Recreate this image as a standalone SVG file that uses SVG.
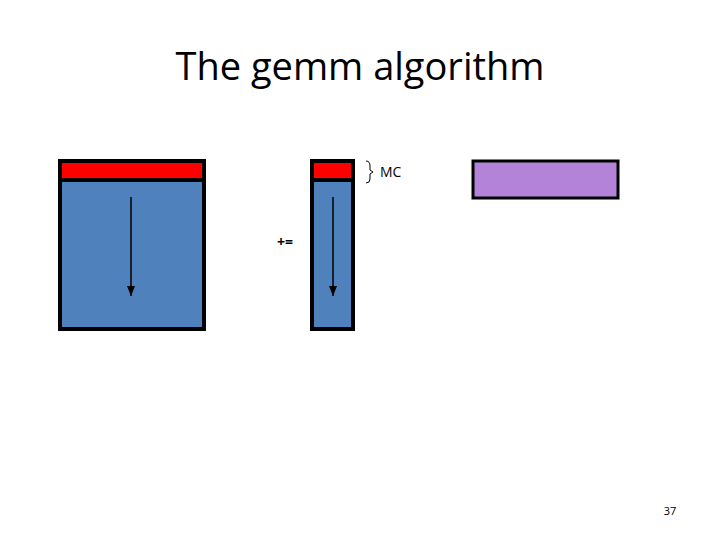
<svg xmlns="http://www.w3.org/2000/svg" width="720" height="540" viewBox="0 0 720 540">
<style>.b{fill:#4f81bd;stroke:#000;stroke-width:4}.r{fill:#ff0000;stroke:#000;stroke-width:4}.t{font-family:"Open Sans","Liberation Sans",sans-serif;fill:#000}</style>
<defs><marker id="a" markerWidth="8" markerHeight="8" refX="4" refY="7" orient="auto-start-reverse" markerUnits="userSpaceOnUse"><path d="M0,0 L8,0 L4,8 z" transform="rotate(-90 4 4)" fill="#000"/></marker>
<marker id="d" markerWidth="8" markerHeight="10" refX="4" refY="10" markerUnits="userSpaceOnUse"><path d="M0,0 L8,0 L4,10 z" fill="#000"/></marker></defs>
<rect width="720" height="540" fill="#fff"/>
<text class="t" x="360" y="80" font-size="38" text-anchor="middle">The gemm algorithm</text>
<g id="A"><rect class="b" x="60" y="161" width="144" height="168"/><rect class="r" x="60" y="161" width="144" height="19"/></g>
<g id="B"><rect class="b" x="312" y="161" width="41" height="168"/><rect class="r" x="312" y="161" width="41" height="19"/></g>
<g id="C"><rect x="473" y="161" width="145" height="37" fill="#b283d8" stroke="#000" stroke-width="3"/></g>
<g id="connectors" stroke="#000" stroke-width="1.5"><line x1="131" y1="197" x2="131" y2="296" marker-end="url(#d)"/><line x1="333" y1="197" x2="333" y2="296" marker-end="url(#d)"/></g>
<path d="M366,161 Q370,161 370,166 L370,170 L373,172 L370,174 L370,179 Q370,183 366,183" fill="none" stroke="#000" stroke-width="1"/>
<text class="t" x="380" y="177" font-size="14">MC</text>
<text class="t" x="277" y="247" font-size="14" font-weight="bold">+=</text>
<text class="t" x="670" y="515" font-size="11" text-anchor="middle">37</text>
</svg>
